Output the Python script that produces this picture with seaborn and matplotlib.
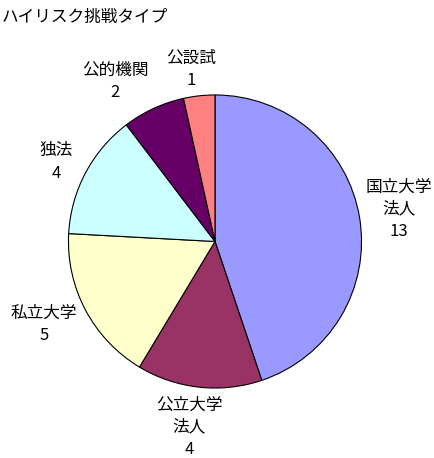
import matplotlib
matplotlib.use("Agg")
import matplotlib.pyplot as plt
import seaborn as sns

# data
categories = ["国立大学\n法人", "公立大学\n法人", "私立大学", "独法", "公的機関", "公設試"]
counts = [13, 4, 5, 4, 2, 1]
colors = ["#9999FF", "#993366", "#FFFFCC", "#CCFFFF", "#660066", "#FF8080"]

# label centres in pixels (x from left, y from top)
label_pos = [(399, 209), (189, 427), (44, 324), (56, 162), (115, 81), (191, 69)]

sns.set_theme(style="white")
plt.rcParams["font.family"] = ["Noto Sans CJK JP", "DejaVu Sans"]

W, H = 435, 458
fig = plt.figure(figsize=(W / 100, H / 100), dpi=100)

cx, cy, r = 215, 241.5, 148
ax = fig.add_axes([(cx - r) / W, (H - cy - r) / H, 2 * r / W, 2 * r / H])
ax.pie(counts, colors=colors, startangle=90, counterclock=False, radius=1,
       wedgeprops=dict(edgecolor="black", linewidth=0.8))
ax.set_xlim(-1.01, 1.01)
ax.set_ylim(-1.01, 1.01)
ax.axis("off")

for name, n, (x, y) in zip(categories, counts, label_pos):
    fig.text(x / W, 1 - y / H, f"{name}\n{n}", ha="center", va="center",
             fontsize=12, linespacing=1.4, color="black")

fig.text(2 / W, 1 - 17 / H, "ハイリスク挑戦タイプ", ha="left", va="center",
         fontsize=12, color="black")

fig.savefig("out.png", dpi=100)
